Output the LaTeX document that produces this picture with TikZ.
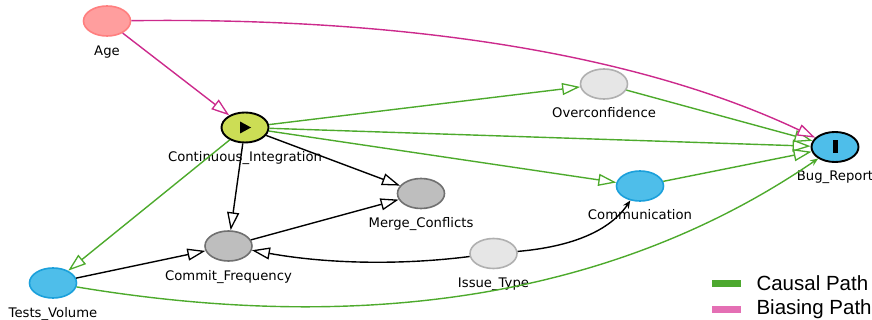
\documentclass[tikz,border=0pt]{standalone}
\usepackage{fontspec}
\setmainfont{DejaVu Sans}
\newfontfamily\legendfont{Liberation Sans}
\usetikzlibrary{arrows.meta,shapes.geometric}
\definecolor{causal}{HTML}{4DAA2C}
\definecolor{bias}{HTML}{CC2A8C}
\definecolor{legcausal}{HTML}{4DA82F}
\definecolor{legbias}{HTML}{E46FB4}
\definecolor{agefill}{HTML}{FF9E9E}
\definecolor{ageborder}{HTML}{FF7F7F}
\definecolor{cifill}{HTML}{CCDD55}
\definecolor{bluefill}{HTML}{4EBEEA}
\definecolor{blueborder}{HTML}{1BA0DB}
\definecolor{greyfill}{HTML}{BEBEBE}
\definecolor{greyborder}{HTML}{707070}
\definecolor{lgreyfill}{HTML}{E6E6E6}
\definecolor{lgreyborder}{HTML}{B0B0B0}
\begin{document}
\begin{tikzpicture}[x=1pt,y=-1pt,
  var/.style={ellipse, minimum width=47pt, minimum height=30pt, inner sep=0pt, line width=1.6pt},
  agevar/.style={var, fill=agefill, draw=ageborder},
  exposure/.style={var, fill=cifill, draw=black, line width=1.9pt},
  outcome/.style={var, fill=bluefill, draw=black, line width=1.9pt},
  bluevar/.style={var, fill=bluefill, draw=blueborder},
  greyvar/.style={var, fill=greyfill, draw=greyborder},
  lgreyvar/.style={var, fill=lgreyfill, draw=lgreyborder},
  lbl/.style={anchor=base, font=\fontsize{13.2}{15}\selectfont},
  opentip/.tip={Triangle[length=18pt, width=12pt, fill=white, line width=1.3pt]},
  edgeline/.style={line width=1.4pt, -opentip},
  curvetip/.style={line width=1.4pt, -{Stealth[length=8pt, width=6.5pt]}},
  causaledge/.style={edgeline, draw=causal},
  biasedge/.style={edgeline, draw=bias},
  plainedge/.style={edgeline, draw=black},
  legtext/.style={anchor=base west, font=\legendfont\fontsize{20.5}{24}\selectfont}
]
\useasboundingbox (0,0) rectangle (872,320);

% nodes
\node[agevar] (age) at (107,21) {};
\node[exposure] (ci) at (245,127.5) {};
\node[lgreyvar] (over) at (604,84) {};
\node[outcome] (bug) at (835,147) {};
\node[bluevar] (comm) at (640,186) {};
\node[greyvar] (merge) at (421,193.5) {};
\node[greyvar] (commit) at (228.5,246) {};
\node[lgreyvar] (issue) at (493.5,253.5) {};
\node[bluevar] (tests) at (53,283) {};

% symbols
\fill ([shift={(-5,-6)}]ci.center) -- ++(0,12) -- ++(11,-6) -- cycle;
\fill ([shift={(-2.5,-6.5)}]bug.center) rectangle ++(5,13);

% labels
\node[lbl] (age-l) at (107,56) {Age};
\node[lbl] (ci-l) at (245,161.5) {Continuous\_Integration};
\node[lbl] (over-l) at (604,117.5) {Overconfidence};
\node[lbl] (bug-l) at (835,180.5) {Bug\_Report};
\node[lbl] (comm-l) at (640,220) {Communication};
\node[lbl] (merge-l) at (421,227.5) {Merge\_Conflicts};
\node[lbl] (commit-l) at (228.5,280) {Commit\_Frequency};
\node[lbl] (issue-l) at (493.5,287.5) {Issue\_Type};
\node[lbl] (tests-l) at (53,317) {Tests\_Volume};

% causal edges
\draw[causaledge] (ci) -- (over);
\draw[causaledge] (ci) -- (bug);
\draw[causaledge] (ci) -- (comm);
\draw[causaledge] (ci) -- (tests);
\draw[causaledge] (over) -- (bug);
\draw[causaledge] (comm) -- (bug);
\draw[curvetip, draw=causal] (tests) .. controls (371.7,336) and (620,294.3) .. (bug);

% biasing edges
\draw[biasedge] (age) -- (ci);
\draw[biasedge] (age) .. controls (416.7,17) and (644,56.7) .. (bug);

% other edges
\draw[plainedge] (ci) -- (merge);
\draw[plainedge] (ci) -- (commit);
\draw[plainedge] (commit) -- (merge);
\draw[plainedge] (tests) -- (commit);
\draw[plainedge] (issue) .. controls (397,265.7) and (324,263.3) .. (commit);
\draw[curvetip, draw=black] (issue) .. controls (572.3,246.7) and (610,230.7) .. (comm);

% legend
\fill[legcausal] (712,280) rectangle (741,287);
\fill[legbias] (712,306) rectangle (741,313);
\node[legtext] (leg-causal) at (753,290.5) {Causal Path};
\node[legtext] (leg-bias) at (753,314.5) {Biasing Path};
\end{tikzpicture}
\end{document}
